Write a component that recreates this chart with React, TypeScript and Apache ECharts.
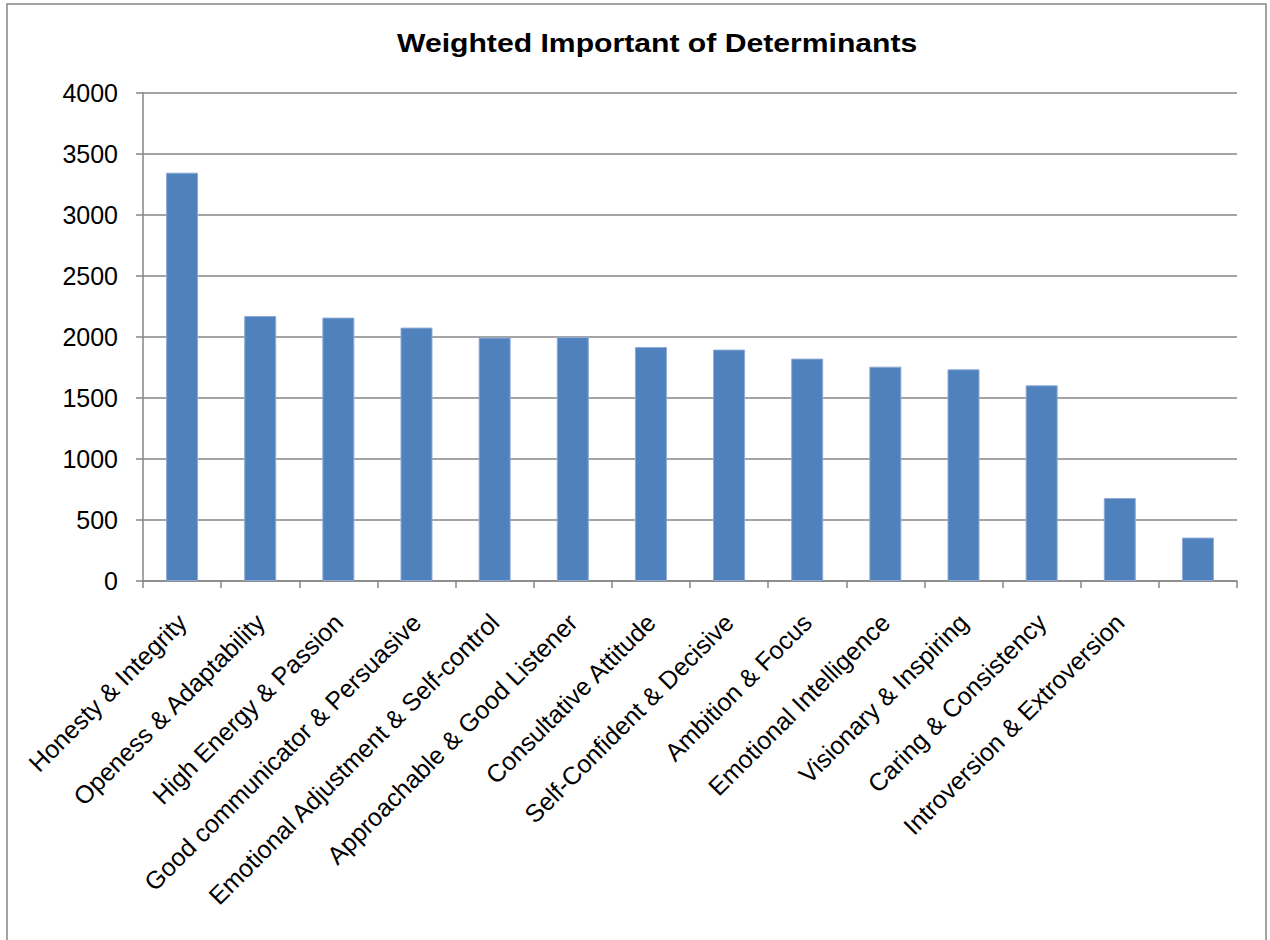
import React, { useEffect, useRef } from "react";
import * as echarts from "echarts";

// Determinant names along the category axis (the last column carries no label)
const categories: string[] = [
  "Honesty & Integrity",
  "Openess & Adaptability",
  "High Energy & Passion",
  "Good communicator & Persuasive",
  "Emotional Adjustment & Self-control",
  "Approachable & Good Listener",
  "Consultative Attitude",
  "Self-Confident & Decisive",
  "Ambition & Focus",
  "Emotional Intelligence",
  "Visionary & Inspiring",
  "Caring & Consistency",
  "Introversion & Extroversion",
  "",
];

// Weighted importance score for each determinant
const weightedScores: number[] = [
  3347, 2172, 2159, 2077, 1995, 2000, 1918, 1897, 1823, 1757, 1735, 1604, 680, 356,
];

// Value axis range
const yMin = 0;
const yMax = 4000;
const yStep = 500;

const chartTitle = "Weighted Important of Determinants";

const FONT = "'Liberation Sans', Arial, sans-serif";
const AXIS_GREY = "#868686";

export default function App() {
  const ref = useRef<HTMLDivElement>(null);

  useEffect(() => {
    document.body.style.margin = "0";
    if (!ref.current) return;
    const chart = echarts.init(ref.current, undefined, { renderer: "svg" });
    chart.setOption({
      animation: false,
      backgroundColor: "#ffffff",
      graphic: [
        {
          type: "rect",
          shape: { x: 7, y: 4, width: 1259, height: 1000 },
          style: { fill: "none", stroke: AXIS_GREY, lineWidth: 1.5 },
          silent: true,
        },
        {
          // chart title, set in a slightly wide bold face
          type: "text",
          x: 397,
          y: 30,
          scaleX: 1.16,
          silent: true,
          style: {
            text: chartTitle,
            x: 0,
            y: 0,
            fill: "#000000",
            fontFamily: FONT,
            fontSize: 26,
            fontWeight: "bold",
            align: "left",
            verticalAlign: "top",
          },
        },
      ],
      grid: {
        left: 143,
        right: 33,
        top: 93,
        bottom: 359,
        containLabel: false,
      },
      xAxis: {
        type: "category",
        data: categories,
        boundaryGap: true,
        axisLine: { show: true, lineStyle: { color: AXIS_GREY, width: 1.5 } },
        axisTick: {
          show: true,
          interval: 0,
          alignWithLabel: false,
          length: 7,
          lineStyle: { color: AXIS_GREY, width: 1.5 },
        },
        axisLabel: {
          interval: 0,
          rotate: 45,
          align: "right",
          verticalAlign: "middle",
          margin: 37,
          fontFamily: FONT,
          fontSize: 25,
          color: "#000000",
        },
        splitLine: { show: false },
      },
      yAxis: {
        type: "value",
        min: yMin,
        max: yMax,
        interval: yStep,
        axisLine: { show: true, lineStyle: { color: AXIS_GREY, width: 1.5 } },
        axisTick: {
          show: true,
          length: 7,
          lineStyle: { color: AXIS_GREY, width: 1.5 },
        },
        axisLabel: {
          margin: 25,
          fontFamily: FONT,
          fontSize: 25,
          color: "#000000",
          formatter: (v: number) => String(v),
        },
        splitLine: { show: true, lineStyle: { color: AXIS_GREY, width: 1.5 } },
      },
      series: [
        {
          type: "bar",
          data: weightedScores,
          barWidth: 32,
          itemStyle: {
            color: "#4f81bd",
            borderColor: "#8eaad5",
            borderWidth: 1,
          },
        },
      ],
    });
    return () => chart.dispose();
  }, []);

  return <div ref={ref} style={{ width: 1270, height: 940 }} />;
}
